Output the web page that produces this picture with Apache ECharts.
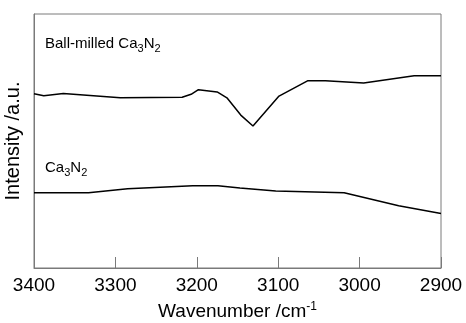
<!DOCTYPE html>
<html>
<head>
<meta charset="utf-8">
<script src="https://cdn.jsdelivr.net/npm/echarts@6/dist/echarts.min.js"></script>
<style>
  html, body { margin: 0; padding: 0; background: #fff; }
  #chart { width: 466px; height: 323px; }
</style>
</head>
<body>
<div id="chart"></div>
<script>
// wavenumber (cm-1) / intensity (a.u.)
const milledWn = [3400, 3388, 3364, 3294, 3218, 3207, 3198, 3175, 3163, 3146, 3131, 3099, 3064, 3042, 2995, 2933, 2900]
const milledI = [68.6, 67.8, 68.7, 67.0, 67.2, 68.4, 70.2, 69.3, 67.0, 60.2, 55.9, 67.7, 73.7, 73.7, 72.8, 75.7, 75.7]
const pureWn = [3400, 3333, 3285, 3205, 3174, 3147, 3103, 3019, 2952, 2900]
const pureI = [29.6, 29.6, 31.2, 32.4, 32.4, 31.5, 30.3, 29.6, 24.5, 21.5]

const pairs = (xs, ys) => xs.map((x, i) => [x, ys[i]])

const chart = echarts.init(document.getElementById('chart'), null, { renderer: 'canvas' })
const font = 'Liberation Sans, Arial, sans-serif'
const subStyle = { fontSize: 11, fontFamily: font, fill: '#000', padding: [11, 0, 0, 0] }
const frame = '#7a7a7a'

chart.setOption({
  animation: false,
  grid: {
    left: 34, right: 25, top: 14, bottom: 55,
    outerBoundsMode: 'none', containLabel: false,
    show: true, borderColor: frame, borderWidth: 1,
  },
  xAxis: {
    type: 'value',
    inverse: true,
    min: 2900,
    max: 3400,
    interval: 100,
    name: 'Wavenumber /cm{sup|-1}',
    nameLocation: 'middle',
    nameGap: 33,
    nameTextStyle: {
      color: '#000', fontFamily: font, fontSize: 19,
      rich: { sup: { fontSize: 12, fontFamily: font, color: '#000', padding: [0, 0, 10, 0] } },
    },
    axisLine: { lineStyle: { color: frame, width: 1 } },
    axisTick: { inside: true, length: 11, lineStyle: { color: frame } },
    axisLabel: {
      margin: 8, color: '#000', fontFamily: font, fontSize: 19,
      formatter: v => String(v),
      showMinLabel: true, showMaxLabel: true,
    },
    splitLine: { show: false },
  },
  yAxis: {
    type: 'value',
    position: 'left',
    min: 0,
    max: 100,
    name: 'Intensity /a.u.',
    nameLocation: 'middle',
    nameGap: 11,
    nameTextStyle: { color: '#000', fontFamily: font, fontSize: 20 },
    axisLine: { show: true, onZero: false, lineStyle: { color: frame, width: 1 } },
    axisTick: { show: false },
    axisLabel: { show: false },
    splitLine: { show: false },
  },
  series: [
    {
      name: 'Ball-milled Ca3N2', type: 'line', data: pairs(milledWn, milledI),
      symbol: 'none', lineStyle: { color: '#000', width: 1.5 },
    },
    {
      name: 'Ca3N2', type: 'line', data: pairs(pureWn, pureI),
      symbol: 'none', lineStyle: { color: '#000', width: 1.5 },
    },
  ],
  graphic: [
    {
      type: 'text', left: 45, top: 36,
      style: {
        text: 'Ball-milled Ca{s|3}N{s|2}', fill: '#000', font: '15px ' + font,
        rich: { s: subStyle },
      },
    },
    {
      type: 'text', left: 45, top: 160,
      style: {
        text: 'Ca{s|3}N{s|2}', fill: '#000', font: '15px ' + font,
        rich: { s: subStyle },
      },
    },
  ],
})
</script>
</body>
</html>
